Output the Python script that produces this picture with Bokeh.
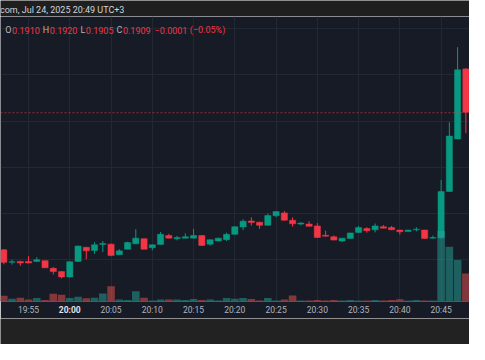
import pandas as pd
from bokeh.plotting import figure
from bokeh.models import (ColumnDataSource, Range1d, FixedTicker, Grid, Span, Label,
                          SingleIntervalTicker, DatetimeAxis)
from bokeh.layouts import column
from bokeh.embed import file_html
from bokeh.resources import INLINE

# ---------------- data ----------------
start_time = "2025-07-24 19:52"
opens = [0.17606, 0.17471, 0.17481, 0.17481, 0.17481, 0.17489, 0.17406, 0.17371, 0.17313, 0.17481,
         0.17634, 0.17598, 0.17665, 0.17668, 0.17554, 0.17613, 0.17671, 0.17727, 0.17630, 0.17665,
         0.17761, 0.17727, 0.17733, 0.17733, 0.17761, 0.17668, 0.17702, 0.17716, 0.17774, 0.17854,
         0.17919, 0.17906, 0.17872, 0.17975, 0.18006, 0.17927, 0.17885, 0.17885, 0.17865, 0.17764,
         0.17748, 0.17702, 0.17730, 0.17795, 0.17837, 0.17823, 0.17857, 0.17847, 0.17820, 0.17806,
         0.17823, 0.17820, 0.17733, 0.17737, 0.18237, 0.18807, 0.19565]
highs = [0.17616, 0.17499, 0.17487, 0.17540, 0.17526, 0.17492, 0.17419, 0.17373, 0.17481, 0.17652,
         0.17637, 0.17689, 0.17702, 0.17673, 0.17613, 0.17694, 0.17830, 0.17730, 0.17663, 0.17799,
         0.17779, 0.17758, 0.17785, 0.17833, 0.17764, 0.17719, 0.17737, 0.17792, 0.17861, 0.17937,
         0.17958, 0.17909, 0.17999, 0.18025, 0.18027, 0.17958, 0.17906, 0.17916, 0.17896, 0.17813,
         0.17761, 0.17735, 0.17792, 0.17865, 0.17851, 0.17892, 0.17875, 0.17865, 0.17823, 0.17823,
         0.17851, 0.17823, 0.17761, 0.18364, 0.18986, 0.19800, 0.19573]
lows = [0.17450, 0.17447, 0.17433, 0.17461, 0.17476, 0.17409, 0.17340, 0.17298, 0.17306, 0.17474,
        0.17505, 0.17561, 0.17582, 0.17538, 0.17549, 0.17611, 0.17668, 0.17611, 0.17603, 0.17663,
        0.17730, 0.17709, 0.17730, 0.17730, 0.17647, 0.17650, 0.17699, 0.17702, 0.17771, 0.17820,
        0.17868, 0.17833, 0.17870, 0.17958, 0.17923, 0.17857, 0.17872, 0.17859, 0.17737, 0.17751,
        0.17709, 0.17692, 0.17727, 0.17792, 0.17792, 0.17795, 0.17839, 0.17820, 0.17771, 0.17802,
        0.17806, 0.17727, 0.17727, 0.17727, 0.18232, 0.18802, 0.18869]
closes = [0.17471, 0.17478, 0.17464, 0.17464, 0.17499, 0.17412, 0.17371, 0.17313, 0.17478, 0.17647,
          0.17595, 0.17661, 0.17675, 0.17544, 0.17595, 0.17685, 0.17733, 0.17613, 0.17661, 0.17774,
          0.17733, 0.17740, 0.17748, 0.17761, 0.17654, 0.17716, 0.17733, 0.17774, 0.17857, 0.17916,
          0.17903, 0.17872, 0.17978, 0.18020, 0.17927, 0.17888, 0.17896, 0.17861, 0.17740, 0.17754,
          0.17712, 0.17733, 0.17789, 0.17847, 0.17813, 0.17865, 0.17841, 0.17823, 0.17802, 0.17820,
          0.17830, 0.17730, 0.17740, 0.18237, 0.18838, 0.19555, 0.19096]
volumes = [72, 36, 48, 24, 44, 20, 96, 84, 44, 60,
           40, 48, 100, 192, 24, 20, 128, 48, 12, 24,
           24, 24, 20, 32, 20, 24, 12, 44, 36, 44,
           32, 12, 44, 12, 24, 76, 12, 12, 20, 12,
           20, 12, 20, 12, 12, 20, 12, 20, 28, 12,
           20, 12, 12, 884, 688, 520, 352]
tick_labels = ["19:55", "20:00", "20:05", "20:10", "20:15", "20:20",
               "20:25", "20:30", "20:35", "20:40", "20:45"]
bold_tick = "20:00"
last_ohlc = ["0.1910", "0.1920", "0.1905", "0.1909"]
last_price = 0.1909
change_text = ["\u22120.0001", "(\u22120.05%)"]
header_text = "com, Jul 24, 2025 20:49 UTC+3"
day = "2025-07-24 "

# ---------------- styling ----------------
BG = "#171b26"
BAR = "#1f1f1f"
UP = "#089981"
DOWN = "#f23645"
GRID = "#232835"
TXT = "#b2b5be"
FONT = "Roboto"
W = 469

times = pd.date_range(start_time, periods=len(opens), freq="1min")
ms = [t.value // 10**6 for t in times]
MIN = 60000
up = [c >= o for o, c in zip(opens, closes)]
colors = [UP if u else DOWN for u in up]
vcolors = ["#26a69a" if u else "#ef5350" for u in up]
src = ColumnDataSource(dict(
    t=ms, o=opens, h=highs, l=lows, c=closes, v=volumes,
    top=[max(o, c) for o, c in zip(opens, closes)],
    bot=[min(o, c) for o, c in zip(opens, closes)],
    col=colors, vcol=vcolors))

tick_ms = [pd.Timestamp(day + s).value // 10**6 for s in tick_labels]
bold_ms = pd.Timestamp(day + bold_tick).value // 10**6
t_first = tick_ms[0]

p = figure(width=W, height=302, x_axis_type="datetime", y_axis_location=None,
           x_range=Range1d(t_first - 3.398 * MIN, t_first + 53.44 * MIN),
           y_range=Range1d(0.17047, 0.20132),
           min_border_left=0, min_border_right=0, min_border_top=0, min_border_bottom=17,
           background_fill_color=BG, border_fill_color=BG, outline_line_color=None,
           toolbar_location=None, output_backend="svg")
p.extra_y_ranges = {"vol": Range1d(0, 3576)}

def style_axis(ax, bold=False):
    ax.axis_line_color = None
    ax.major_tick_line_color = None
    ax.minor_tick_line_color = None
    ax.major_tick_out = 0
    ax.major_tick_in = 0
    ax.major_label_text_color = "#e0e3eb" if bold else TXT
    ax.major_label_text_font = FONT
    ax.major_label_text_font_size = "8.5px"
    ax.major_label_text_font_style = "bold" if bold else "normal"

xa = p.xaxis[0]
xa.ticker = FixedTicker(ticks=tick_ms)
xa.major_label_overrides = {float(m): ("" if s == bold_tick else s)
                            for m, s in zip(tick_ms, tick_labels)}
xa.major_label_standoff = 3
style_axis(xa)

xb = DatetimeAxis(ticker=FixedTicker(ticks=[bold_ms]),
                  major_label_overrides={float(bold_ms): bold_tick})
style_axis(xb, bold=True)
xb.major_label_standoff = -13
p.add_layout(xb, "below")

p.xgrid.grid_line_color = GRID
p.add_layout(Grid(dimension=1, ticker=SingleIntervalTicker(interval=0.005),
                  grid_line_color=GRID))

p.segment(x0="t", y0="l", x1="t", y1="h", line_color="col", line_width=1, source=src)
p.vbar(x="t", width=0.75 * MIN, top="top", bottom="bot", fill_color="col",
       line_color="col", line_width=0.5, source=src)
p.vbar(x="t", width=0.92 * MIN, top="v", bottom=0, y_range_name="vol",
       fill_color="vcol", fill_alpha=0.5, line_color=None, source=src)

p.add_layout(Span(location=last_price, dimension="width", line_color=DOWN,
                  line_alpha=0.6, line_dash="2 2", line_width=1))

# OHLC legend row (segments laid out left to right with approximate Roboto widths)
legend_parts = [("O", TXT, 0.6), (last_ohlc[0], DOWN, 3.0), ("H", TXT, 0.6),
                (last_ohlc[1], DOWN, 3.0), ("L", TXT, 0.6), (last_ohlc[2], DOWN, 3.0),
                ("C", TXT, 0.6), (last_ohlc[3], DOWN, 4.0), (change_text[0], DOWN, 2.5),
                (change_text[1], DOWN, 0.0)]
EM = {"O": .688, "H": .713, "L": .538, "C": .652, ".": .263, " ": .248,
      "\u2212": .568, "(": .342, ")": .348, "%": .733}
LFS = 9.0
lx = 4.8
for txt, col, gap in legend_parts:
    p.add_layout(Label(x=lx, y=271.5, x_units="screen", y_units="screen", text=txt,
                       text_align="left", text_baseline="middle", text_font=FONT,
                       text_font_size=f"{LFS}px", text_color=col))
    lx += sum(EM.get(ch, .5615) for ch in txt) * LFS + gap

# header bar
hdr = figure(width=W, height=16, x_axis_location=None, y_axis_location=None,
             x_range=Range1d(0, 1), y_range=Range1d(0, 1),
             min_border=0, background_fill_color=BAR, border_fill_color=BAR,
             outline_line_color=None, toolbar_location=None, output_backend="svg")
hdr.grid.visible = False
hdr.add_layout(Label(x=-0.5, y=6.5, x_units="screen", y_units="screen", text=header_text,
                     text_align="left", text_baseline="middle", text_font=FONT,
                     text_font_size="9px", text_color="#d1d4dc"))

# footer bar
ftr = figure(width=W, height=26, x_axis_location=None, y_axis_location=None,
             x_range=Range1d(0, 1), y_range=Range1d(0, 1),
             min_border=0, background_fill_color="#222222", border_fill_color="#222222",
             outline_line_color=None, toolbar_location=None, output_backend="svg")
ftr.grid.visible = False

layout = column(hdr, p, ftr)
open("out.html", "w").write(file_html(layout, INLINE))
